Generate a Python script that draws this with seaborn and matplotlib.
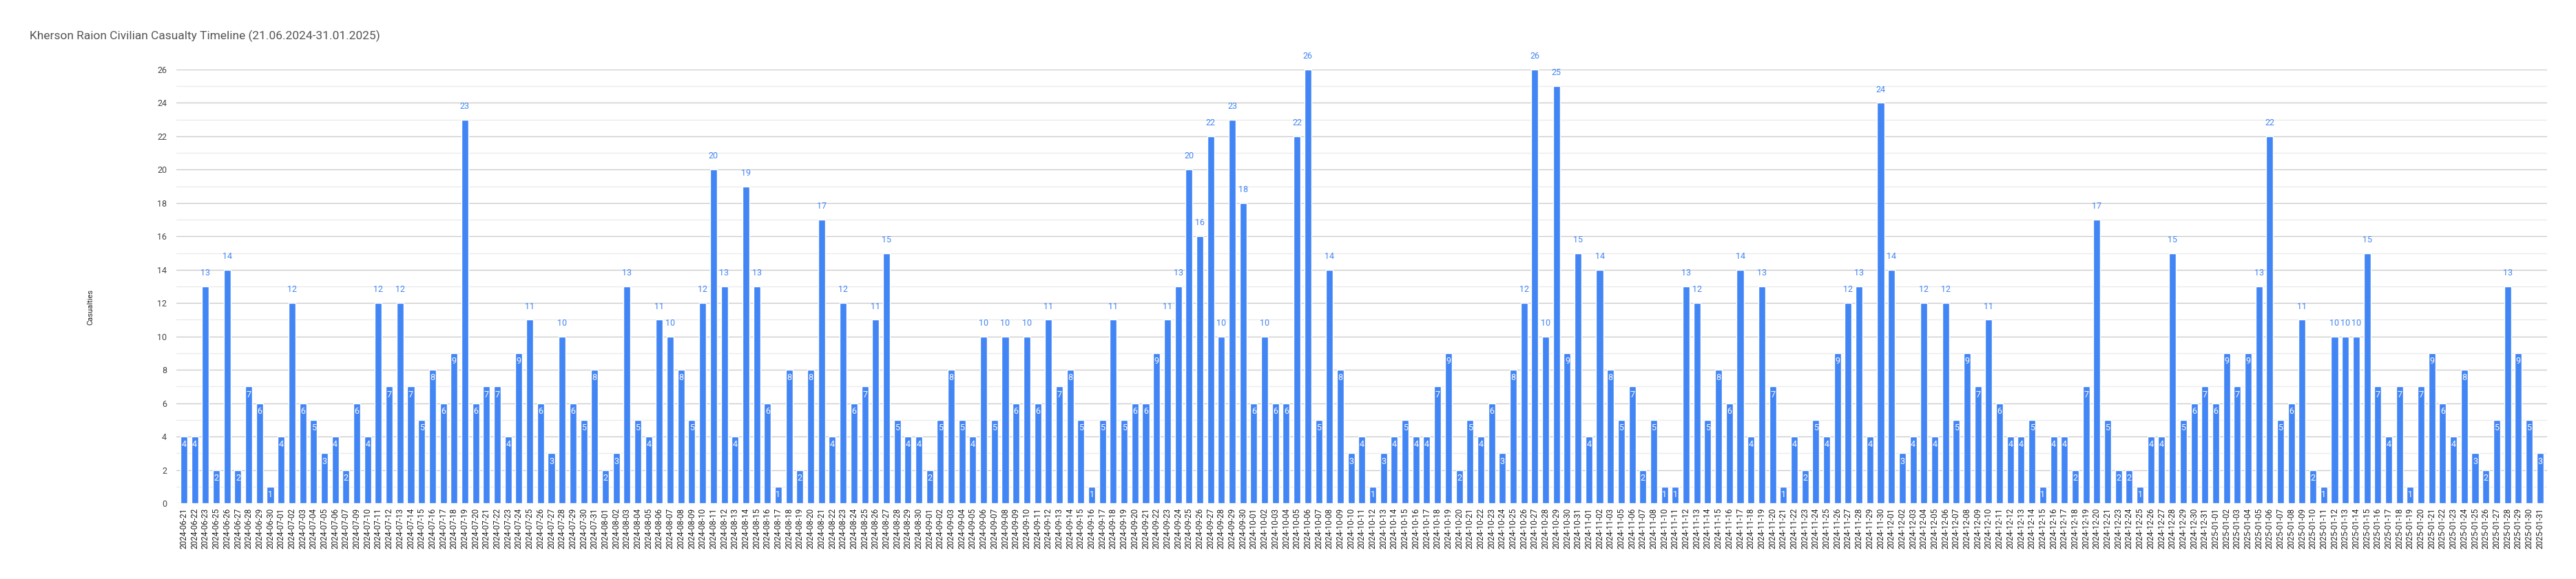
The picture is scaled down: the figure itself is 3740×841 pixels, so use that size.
import matplotlib
matplotlib.use('Agg')
import matplotlib.pyplot as plt
import seaborn as sns
import pandas as pd

dates = [
    "2024-06-21", "2024-06-22", "2024-06-23", "2024-06-25", "2024-06-26", "2024-06-27", "2024-06-28", "2024-06-29", "2024-06-30",
    "2024-07-01", "2024-07-02", "2024-07-03", "2024-07-04", "2024-07-05", "2024-07-06", "2024-07-07", "2024-07-09", "2024-07-10",
    "2024-07-11", "2024-07-12", "2024-07-13", "2024-07-14", "2024-07-15", "2024-07-16", "2024-07-17", "2024-07-18", "2024-07-19",
    "2024-07-20", "2024-07-21", "2024-07-22", "2024-07-23", "2024-07-24", "2024-07-25", "2024-07-26", "2024-07-27", "2024-07-28",
    "2024-07-29", "2024-07-30", "2024-07-31",
    "2024-08-01", "2024-08-02", "2024-08-03", "2024-08-04", "2024-08-05", "2024-08-06", "2024-08-07", "2024-08-08", "2024-08-09",
    "2024-08-10", "2024-08-11", "2024-08-12", "2024-08-13", "2024-08-14", "2024-08-15", "2024-08-16", "2024-08-17", "2024-08-18",
    "2024-08-19", "2024-08-20", "2024-08-21", "2024-08-22", "2024-08-23", "2024-08-24", "2024-08-25", "2024-08-26", "2024-08-27",
    "2024-08-28", "2024-08-29", "2024-08-30",
    "2024-09-01", "2024-09-02", "2024-09-03", "2024-09-04", "2024-09-05", "2024-09-06", "2024-09-07", "2024-09-08", "2024-09-09",
    "2024-09-10", "2024-09-11", "2024-09-12", "2024-09-13", "2024-09-14", "2024-09-15", "2024-09-16", "2024-09-17", "2024-09-18",
    "2024-09-19", "2024-09-20", "2024-09-21", "2024-09-22", "2024-09-23", "2024-09-24", "2024-09-25", "2024-09-26", "2024-09-27",
    "2024-09-28", "2024-09-29", "2024-09-30",
    "2024-10-01", "2024-10-02", "2024-10-03", "2024-10-04", "2024-10-05", "2024-10-06", "2024-10-07", "2024-10-08", "2024-10-09",
    "2024-10-10", "2024-10-11", "2024-10-12", "2024-10-13", "2024-10-14", "2024-10-15", "2024-10-16", "2024-10-17", "2024-10-18",
    "2024-10-19", "2024-10-20", "2024-10-21", "2024-10-22", "2024-10-23", "2024-10-24", "2024-10-25", "2024-10-26", "2024-10-27",
    "2024-10-28", "2024-10-29", "2024-10-30", "2024-10-31",
    "2024-11-01", "2024-11-02", "2024-11-03", "2024-11-05", "2024-11-06", "2024-11-07", "2024-11-08", "2024-11-10", "2024-11-11",
    "2024-11-12", "2024-11-13", "2024-11-14", "2024-11-15", "2024-11-16", "2024-11-17", "2024-11-18", "2024-11-19", "2024-11-20",
    "2024-11-21", "2024-11-22", "2024-11-23", "2024-11-24", "2024-11-25", "2024-11-26", "2024-11-27", "2024-11-28", "2024-11-29",
    "2024-11-30",
    "2024-12-01", "2024-12-02", "2024-12-03", "2024-12-04", "2024-12-05", "2024-12-06", "2024-12-07", "2024-12-08", "2024-12-09",
    "2024-12-10", "2024-12-11", "2024-12-12", "2024-12-13", "2024-12-14", "2024-12-15", "2024-12-16", "2024-12-17", "2024-12-18",
    "2024-12-19", "2024-12-20", "2024-12-21", "2024-12-23", "2024-12-24", "2024-12-25", "2024-12-26", "2024-12-27", "2024-12-28",
    "2024-12-29", "2024-12-30", "2024-12-31",
    "2025-01-01", "2025-01-02", "2025-01-03", "2025-01-04", "2025-01-05", "2025-01-06", "2025-01-07", "2025-01-08", "2025-01-09",
    "2025-01-10", "2025-01-11", "2025-01-12", "2025-01-13", "2025-01-14", "2025-01-15", "2025-01-16", "2025-01-17", "2025-01-18",
    "2025-01-19", "2025-01-20", "2025-01-21", "2025-01-22", "2025-01-23", "2025-01-24", "2025-01-25", "2025-01-26", "2025-01-27",
    "2025-01-28", "2025-01-29", "2025-01-30", "2025-01-31",
]

casualties = [
    4, 4, 13, 2, 14, 2, 7, 6, 1,
    4, 12, 6, 5, 3, 4, 2, 6, 4,
    12, 7, 12, 7, 5, 8, 6, 9, 23,
    6, 7, 7, 4, 9, 11, 6, 3, 10,
    6, 5, 8,
    2, 3, 13, 5, 4, 11, 10, 8, 5,
    12, 20, 13, 4, 19, 13, 6, 1, 8,
    2, 8, 17, 4, 12, 6, 7, 11, 15,
    5, 4, 4,
    2, 5, 8, 5, 4, 10, 5, 10, 6,
    10, 6, 11, 7, 8, 5, 1, 5, 11,
    5, 6, 6, 9, 11, 13, 20, 16, 22,
    10, 23, 18,
    6, 10, 6, 6, 22, 26, 5, 14, 8,
    3, 4, 1, 3, 4, 5, 4, 4, 7,
    9, 2, 5, 4, 6, 3, 8, 12, 26,
    10, 25, 9, 15,
    4, 14, 8, 5, 7, 2, 5, 1, 1,
    13, 12, 5, 8, 6, 14, 4, 13, 7,
    1, 4, 2, 5, 4, 9, 12, 13, 4,
    24,
    14, 3, 4, 12, 4, 12, 5, 9, 7,
    11, 6, 4, 4, 5, 1, 4, 4, 2,
    7, 17, 5, 2, 2, 1, 4, 4, 15,
    5, 6, 7,
    6, 9, 7, 9, 13, 22, 5, 6, 11,
    2, 1, 10, 10, 10, 15, 7, 4, 7,
    1, 7, 9, 6, 4, 8, 3, 2, 5,
    13, 9, 5, 3,
]

title = "Kherson Raion Civilian Casualty Timeline (21.06.2024-31.01.2025)"
y_label = "Casualties"

BLUE = "#4285F4"

sns.set_theme(style="white")
plt.rcParams['font.family'] = ['Roboto', 'DejaVu Sans']

W, H = 3741, 841
fig = plt.figure(figsize=(W / 100, H / 100), dpi=100)
fig.patch.set_facecolor("white")
left, right, top, bottom = 256, 3698, 101, 731
ax = fig.add_axes([left / W, 1 - bottom / H, (right - left) / W, (bottom - top) / H])

df = pd.DataFrame({"date": dates, "casualties": casualties})
sns.barplot(data=df, x="date", y="casualties", color=BLUE, saturation=1,
            width=0.64, ax=ax, errorbar=None)

ax.set_ylim(0, 26)
ax.set_xlim(-0.7, len(dates) - 1 + 0.66)
ax.set_yticks(range(0, 27, 2))
ax.set_yticks(range(1, 26, 2), minor=True)
ax.grid(axis="y", which="major", color="#cccccc", linewidth=1.0)
ax.grid(axis="y", which="minor", color="#ebebeb", linewidth=1.0)
ax.set_axisbelow(True)
for s in ax.spines.values():
    s.set_visible(False)

ax.tick_params(axis="y", which="both", length=0, pad=10, labelsize=9, labelcolor="#444444")
ax.tick_params(axis="x", length=0, pad=5, labelsize=8.5, labelcolor="#222222")
plt.setp(ax.get_xticklabels(), rotation=90, ha="center", va="top")
ax.set_xlabel("")
ax.set_ylabel("")

for patch in ax.patches:
    h = patch.get_height()
    cx = patch.get_x() + patch.get_width() / 2
    if h >= 10:
        ax.annotate(f"{int(h)}", (cx, h), xytext=(0, 14), textcoords="offset points",
                    ha="center", va="center", fontsize=9, color=BLUE)
    else:
        ax.annotate(f"{int(h)}", (cx, h), xytext=(0, -8.5), textcoords="offset points",
                    ha="center", va="center", fontsize=9, color="white")

fig.text(43 / W, 1 - 52 / H, title, ha="left", va="center", fontsize=12.5, color="#555555")
fig.text(131 / W, 1 - 446 / H, y_label, ha="center", va="center", rotation=90,
         fontsize=8, color="#222222")

fig.savefig("out.png", dpi=100, facecolor="white")
